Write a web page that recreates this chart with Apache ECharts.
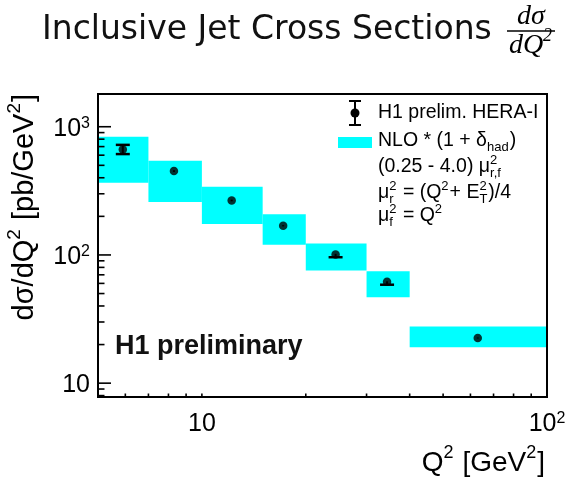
<!DOCTYPE html>
<html>
<head>
<meta charset="utf-8">
<script src="https://cdn.jsdelivr.net/npm/echarts@6/dist/echarts.min.js"></script>
<style>
  html, body { margin: 0; padding: 0; background: #ffffff; }
  #chart { width: 575px; height: 482px; }
</style>
</head>
<body>
<div id="chart"></div>
<script>
// Q^2 bin edges [GeV^2]
const binLow  = [5, 7, 10, 15, 20, 30, 40];
const binHigh = [7, 10, 15, 20, 30, 40, 100];

// H1 preliminary HERA-I measurement: bin centre, cross section and error band ends [pb/GeV^2]
const q2Centre = [5.9, 8.3, 12.2, 17.2, 24.4, 34.4, 63];
const xsec     = [665, 451, 266, 169, 101, 61.8, 22.5];
const xsecHigh = [722, 458, 270, 171, 102, 62.3, 22.7];
const xsecLow  = [612, 444, 262, 167, 96, 58.6, 22.3];

// NLO * (1 + delta_had) with scale variation band
const nloLow  = [365, 259, 174, 120, 75.5, 46.8, 19.1];
const nloHigh = [836, 542, 340, 208, 123, 74.6, 27.7];

// axis ticks and labels
const yMajorTicks = [10, 100, 1000];
const yTickLabels = ['10', '10{sup|2}', '10{sup|3}'];
const yMinorTicks = [8, 9, 20, 30, 40, 50, 60, 70, 80, 90, 200, 300, 400, 500, 600, 700, 800, 900];
const xMajorTicks = [10, 100];
const xTickLabels = ['10', '10{sup|2}'];
const xMinorTicks = [6, 7, 8, 9, 20, 30, 40, 50, 60, 70, 80, 90];

const X_MIN = 5, X_MAX = 100, Y_MIN = 7.8, Y_MAX = 1800;
const GRID = { left: 98, top: 94, width: 449, height: 303 };
const SANS = 'Liberation Sans, Arial, Helvetica, sans-serif';
const BAND = '#00ffff';

// text measuring for hand-set formulas
const measureCtx = document.createElement('canvas').getContext('2d');
function textWidth(str, size, family, style) {
  measureCtx.font = (style || 'normal') + ' ' + size + 'px ' + family;
  return measureCtx.measureText(str).width;
}
function textEl(str, x, y, size, family, style, align) {
  return {
    type: 'text', x: x, y: y, silent: true,
    style: {
      text: str, fill: '#000', fontSize: size, fontFamily: family,
      fontStyle: style || 'normal',
      align: align || 'left', textAlign: align || 'left',
      verticalAlign: 'middle', textVerticalAlign: 'middle'
    }
  };
}
// lays out a formula made of plain runs and stacked super/subscripts
function formula(segs, x, y, size, family, style) {
  const small = Math.round(size * 0.66);
  const els = [];
  let cx = x;
  segs.forEach(function (s) {
    if (typeof s === 'string') {
      els.push(textEl(s, cx, y, size, family, style));
      cx += textWidth(s, size, family, style);
    } else {
      let w = 0;
      if (s.sup) {
        els.push(textEl(s.sup, cx, y - size * 0.36, small, family, style));
        w = Math.max(w, textWidth(s.sup, small, family, style));
      }
      if (s.sub) {
        els.push(textEl(s.sub, cx, y + size * 0.33, small, family, style));
        w = Math.max(w, textWidth(s.sub, small, family, style));
      }
      cx += w + 1;
    }
  });
  return { elements: els, width: cx - x };
}

const bandData = binLow.map(function (lo, i) { return [lo, binHigh[i], nloLow[i], nloHigh[i]]; });
const pointData = q2Centre.map(function (q, i) { return [q, xsec[i]]; });
const errData = q2Centre.map(function (q, i) { return [q, xsec[i], xsecLow[i], xsecHigh[i]]; });

function renderBand(params, api) {
  const a = api.coord([api.value(0), api.value(3)]);
  const b = api.coord([api.value(1), api.value(2)]);
  return {
    type: 'rect',
    shape: { x: a[0], y: a[1], width: b[0] - a[0], height: b[1] - a[1] },
    style: { fill: BAND }
  };
}

function renderError(params, api) {
  const c = api.coord([api.value(0), api.value(1)]);
  const lo = api.coord([api.value(0), api.value(2)]);
  const hi = api.coord([api.value(0), api.value(3)]);
  const capW = 7;
  const kids = [{
    type: 'line', shape: { x1: c[0], y1: lo[1], x2: c[0], y2: hi[1] },
    style: { stroke: '#000', lineWidth: 2 }
  }];
  [lo[1], hi[1]].forEach(function (yy) {
    if (Math.abs(yy - c[1]) > 2) {
      kids.push({
        type: 'line', shape: { x1: c[0] - capW, y1: yy, x2: c[0] + capW, y2: yy },
        style: { stroke: '#000', lineWidth: 2.5 }
      });
    }
  });
  return { type: 'group', children: kids };
}

function yTickRenderer(len) {
  return function (params, api) {
    const cs = params.coordSys;
    const y = api.coord([X_MIN, api.value(1)])[1];
    return {
      type: 'line', shape: { x1: cs.x, y1: y, x2: cs.x + len, y2: y },
      style: { stroke: '#000', lineWidth: 1.6 }
    };
  };
}
function xTickRenderer(len) {
  return function (params, api) {
    const cs = params.coordSys;
    const x = api.coord([api.value(0), Y_MIN])[0];
    const yb = cs.y + cs.height;
    return {
      type: 'line', shape: { x1: x, y1: yb, x2: x, y2: yb - len },
      style: { stroke: '#000', lineWidth: 1.6 }
    };
  };
}
const tickRich = { sup: { fontSize: 16, fontFamily: SANS, verticalAlign: 'top', padding: [0, 0, 10, 0] } };
function yLabelRenderer(params, api) {
  const cs = params.coordSys;
  const y = api.coord([X_MIN, api.value(1)])[1];
  return {
    type: 'text', x: cs.x - 8, y: y + 2,
    style: {
      text: yTickLabels[params.dataIndex], fill: '#000', fontSize: 25, fontFamily: SANS,
      align: 'right', textAlign: 'right', verticalAlign: 'middle', textVerticalAlign: 'middle',
      rich: tickRich
    }
  };
}
function xLabelRenderer(params, api) {
  const cs = params.coordSys;
  const x = api.coord([api.value(0), Y_MIN])[0];
  return {
    type: 'text', x: x, y: cs.y + cs.height + 27,
    style: {
      text: xTickLabels[params.dataIndex], fill: '#000', fontSize: 25, fontFamily: SANS,
      align: 'center', textAlign: 'center', verticalAlign: 'middle', textVerticalAlign: 'middle',
      rich: tickRich
    }
  };
}

// legend, axis titles and the title fraction
const graphics = [];
// frame drawn above the bands
graphics.push({
  type: 'rect', z: 100, silent: true,
  shape: { x: GRID.left, y: GRID.top, width: GRID.width, height: GRID.height },
  style: { fill: 'none', stroke: '#000', lineWidth: 2 }
});

// title fraction d sigma / d Q^2
const SERIF = 'Liberation Serif, Times New Roman, serif';
const fracX = 531;
graphics.push(textEl('d\u03c3', fracX, 17, 28, SERIF, 'italic', 'center'));
graphics.push({
  type: 'line', silent: true, shape: { x1: 507, y1: 31, x2: 555, y2: 31 },
  style: { stroke: '#000', lineWidth: 1.6 }
});
const denom = formula(['dQ', { sup: '2' }], 0, 46, 28, SERIF, 'italic');
graphics.push({ type: 'group', x: fracX - denom.width / 2, y: 0, children: denom.elements });

// legend
const LX = 378, LS = 19.5;
graphics.push({
  type: 'group', silent: true, children: [
    { type: 'line', shape: { x1: 355, y1: 101, x2: 355, y2: 125 }, style: { stroke: '#000', lineWidth: 2 } },
    { type: 'line', shape: { x1: 349, y1: 101, x2: 361, y2: 101 }, style: { stroke: '#000', lineWidth: 2 } },
    { type: 'line', shape: { x1: 349, y1: 125, x2: 361, y2: 125 }, style: { stroke: '#000', lineWidth: 2 } },
    { type: 'circle', shape: { cx: 355, cy: 113, r: 4.5 }, style: { fill: '#000' } },
    { type: 'rect', shape: { x: 338, y: 137, width: 34, height: 11 }, style: { fill: BAND } }
  ]
});
const legendLines = [
  { y: 113, segs: ['H1 prelim. HERA-I'] },
  { y: 141, segs: ['NLO * (1 + \u03b4', { sub: 'had' }, ')'] },
  { y: 167, segs: ['(0.25 - 4.0) \u03bc', { sup: '2', sub: 'r,f' }] },
  { y: 193, segs: ['\u03bc', { sup: '2', sub: 'r' }, ' = (Q', { sup: '2' }, '+ E', { sup: '2', sub: 'T' }, ')/4'] },
  { y: 216, segs: ['\u03bc', { sup: '2', sub: 'f' }, ' = Q', { sup: '2' }] }
];
legendLines.forEach(function (ln) {
  const f = formula(ln.segs, LX, ln.y, LS, SANS);
  graphics.push({ type: 'group', silent: true, children: f.elements });
});

// H1 preliminary tag
graphics.push({
  type: 'text', x: 115, y: 347, silent: true,
  style: {
    text: 'H1 preliminary', fill: '#111', fontSize: 27, fontWeight: 'bold', fontFamily: SANS,
    align: 'left', textAlign: 'left', verticalAlign: 'middle', textVerticalAlign: 'middle'
  }
});

// axis titles
const yTitle = formula(['d\u03c3/dQ', { sup: '2' }, ' [pb/GeV', { sup: '2' }, ']'], 0, 0, 29, SANS);
graphics.push({
  type: 'group', x: 25, y: 94 + yTitle.width, rotation: Math.PI / 2, silent: true,
  children: yTitle.elements
});
const xTitle = formula(['Q', { sup: '2' }, ' [GeV', { sup: '2' }, ']'], 0, 0, 28, SANS);
graphics.push({
  type: 'group', x: 545 - xTitle.width, y: 463, silent: true,
  children: xTitle.elements
});

const chart = echarts.init(document.getElementById('chart'), null, { renderer: 'canvas' });
chart.setOption({
  animation: false,
  backgroundColor: '#ffffff',
  title: {
    text: 'Inclusive Jet Cross Sections',
    left: 37, top: 9,
    textStyle: { fontFamily: 'DejaVu Sans, sans-serif', fontSize: 33, fontWeight: 'normal', color: '#111' }
  },
  grid: { left: GRID.left, top: GRID.top, width: GRID.width, height: GRID.height, show: false },
  xAxis: {
    type: 'log', logBase: 10, min: X_MIN, max: X_MAX,
    axisLine: { show: false }, axisTick: { show: false }, axisLabel: { show: false }, splitLine: { show: false }
  },
  yAxis: {
    type: 'log', logBase: 10, min: Y_MIN, max: Y_MAX,
    axisLine: { show: false }, axisTick: { show: false }, axisLabel: { show: false }, splitLine: { show: false }
  },
  graphic: graphics,
  series: [
    { type: 'custom', name: 'NLO band', z: 1, renderItem: renderBand, data: bandData, encode: { x: [0, 1], y: [2, 3] } },
    { type: 'custom', name: 'errors', z: 3, renderItem: renderError, data: errData, encode: { x: 0, y: [1, 2, 3] } },
    {
      type: 'scatter', name: 'H1 prelim. HERA-I', z: 4, data: pointData,
      symbol: 'circle', symbolSize: 8.5, itemStyle: { color: '#000' }
    },
    { type: 'custom', z: 10, renderItem: yTickRenderer(13), data: yMajorTicks.map(function (v) { return [X_MIN, v]; }) },
    { type: 'custom', z: 10, renderItem: yTickRenderer(6.5), data: yMinorTicks.map(function (v) { return [X_MIN, v]; }) },
    { type: 'custom', z: 10, renderItem: xTickRenderer(3.5), data: xMajorTicks.concat(xMinorTicks).map(function (v) { return [v, Y_MIN]; }) },
    { type: 'custom', z: 10, renderItem: yLabelRenderer, data: yMajorTicks.map(function (v) { return [X_MIN, v]; }) },
    { type: 'custom', z: 10, renderItem: xLabelRenderer, data: xMajorTicks.map(function (v) { return [v, Y_MIN]; }) }
  ]
});
</script>
</body>
</html>
